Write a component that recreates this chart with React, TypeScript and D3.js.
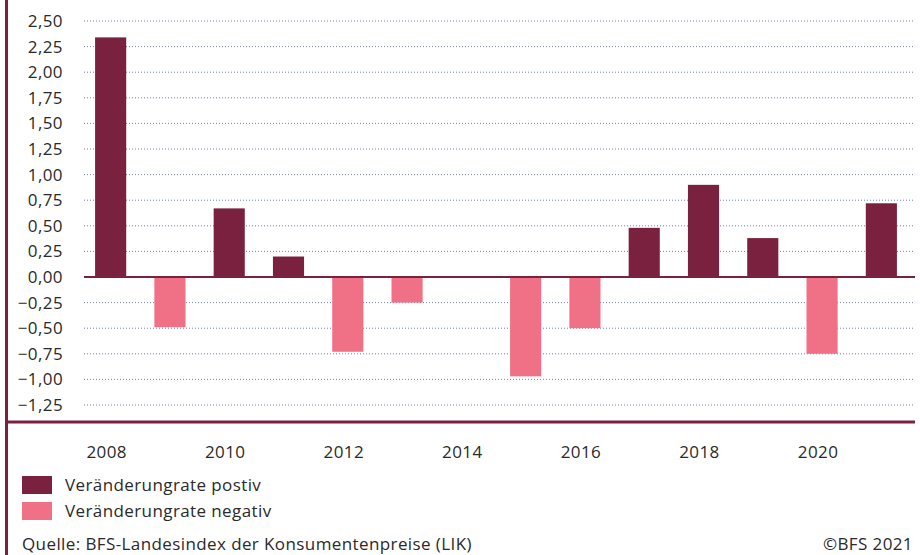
import React from "react";
import * as d3 from "d3";

const years = ["2008","2009","2010","2011","2012","2013","2014","2015","2016","2017","2018","2019","2020","2021"];
const values = [2.34, -0.49, 0.67, 0.2, -0.73, -0.25, 0, -0.97, -0.5, 0.48, 0.9, 0.38, -0.75, 0.72];
const yTicks = [2.5, 2.25, 2.0, 1.75, 1.5, 1.25, 1.0, 0.75, 0.5, 0.25, 0, -0.25, -0.5, -0.75, -1.0, -1.25];
const xTickLabels = ["2008","2010","2012","2014","2016","2018","2020"];
const legendLabels = ["Veränderungrate postiv", "Veränderungrate negativ"];
const sourceText = "Quelle: BFS-Landesindex der Konsumentenpreise (LIK)";
const copyrightText = "©BFS 2021";

const POS = "#7a2140";
const NEG = "#f07086";
const FONT = "'Open Sans', sans-serif";
const FS = 17;
const LS = 0.4;
const TXT = "#2a2a2a";

export default function App() {
  const W = 920, H = 555;
  const x = d3.scaleBand<string>().domain(years).range([81, 911]).paddingInner(0.475).paddingOuter(0.2375);
  const y = d3.scaleLinear().domain([-1.25, 2.5]).range([405, 21]);
  const fmt = (v: number) => {
    const s = Math.abs(v).toFixed(2).replace(".", ",");
    return v < 0 ? "\u2212" + s : s;
  };
  return (
    <svg width={W} height={H} style={{ position: "absolute", left: 0, top: 0, background: "#fff" }} fontFamily={FONT}>
      <rect x={0} y={0} width={W} height={H} fill="#fff" />
      {yTicks.map((t) => (
        <g key={t}>
          {t !== 0 && (
            <line x1={84} x2={915} y1={y(t)} y2={y(t)} stroke="#6f82a8" strokeWidth={1} strokeDasharray="1,2" />
          )}
          <text x={63} y={y(t)} dy="0.35em" textAnchor="end" fontSize={FS} letterSpacing={LS} fill={TXT}>{fmt(t)}</text>
        </g>
      ))}
      {years.map((yr, i) => {
        const v = values[i];
        if (v === 0) return null;
        const y0 = y(0), y1 = y(v);
        return (
          <rect key={yr} x={x(yr)} width={x.bandwidth()} y={Math.min(y0, y1)} height={Math.abs(y1 - y0)} fill={v >= 0 ? POS : NEG} />
        );
      })}
      <line x1={84} x2={915} y1={y(0)} y2={y(0)} stroke={POS} strokeWidth={2} />
      <line x1={5} x2={915} y1={422} y2={422} stroke={POS} strokeWidth={3} />
      <line x1={6.5} x2={6.5} y1={0} y2={H} stroke={POS} strokeWidth={3} />
      {xTickLabels.map((l) => (
        <text key={l} x={(x(l) ?? 0) + x.bandwidth() / 2 - 4} y={458} textAnchor="middle" fontSize={FS} letterSpacing={LS} fill={TXT}>{l}</text>
      ))}
      {legendLabels.map((l, i) => (
        <g key={l}>
          <rect x={22} y={476 + i * 26} width={30} height={18} fill={i === 0 ? POS : NEG} />
          <text x={65} y={485 + i * 26} dy="0.35em" fontSize={FS} letterSpacing={LS} fill={TXT}>{l}</text>
        </g>
      ))}
      <text x={22} y={550} fontSize={FS} letterSpacing={LS} fill={TXT}>{sourceText}</text>
      <text x={913} y={550} textAnchor="end" fontSize={FS} letterSpacing={LS} fill={TXT}>{copyrightText}</text>
    </svg>
  );
}
